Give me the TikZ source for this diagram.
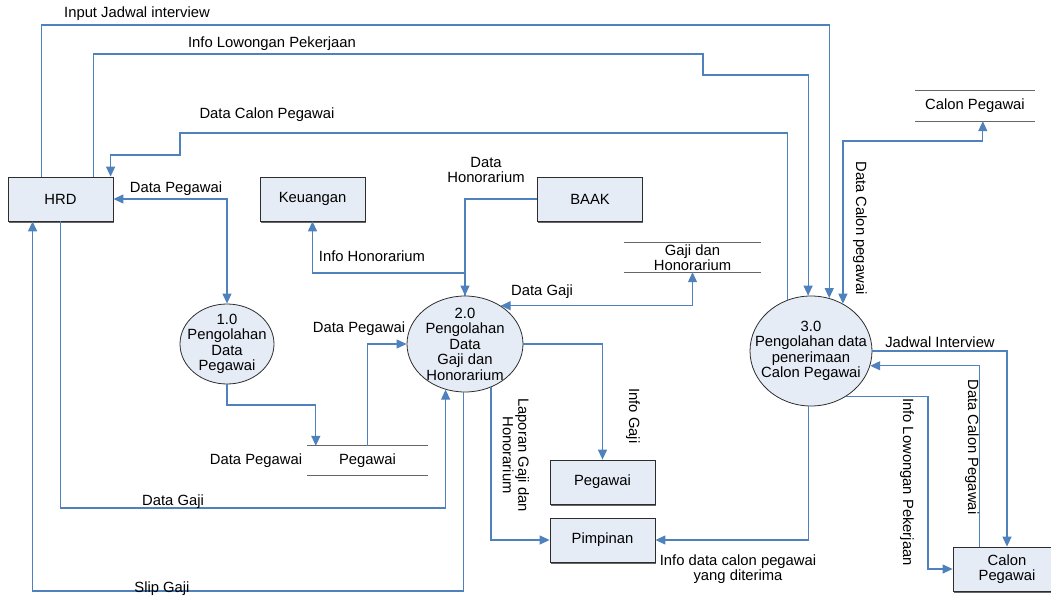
\documentclass[tikz,border=0pt]{standalone}
\usepackage{fontspec}
\setmainfont{Liberation Sans}
\usetikzlibrary{shapes.geometric,arrows.meta,shadows}
\definecolor{lineblue}{RGB}{79,129,189}
\definecolor{boxfill}{RGB}{230,236,246}
\definecolor{edgegray}{RGB}{45,45,45}
\begin{document}
\begin{tikzpicture}[x=1pt,y=-1pt,
  font=\fontsize{14.8}{15.5}\selectfont,
  ext/.style={rectangle, draw=edgegray, line width=0.8pt, fill=boxfill, minimum width=105pt, minimum height=44pt, inner sep=0pt, align=center,
    drop shadow={shadow xshift=0.6pt, shadow yshift=-1.6pt, fill=black!60, opacity=1}},
  proc/.style={ellipse, draw=edgegray, line width=0.8pt, fill=boxfill, inner sep=0pt},
  store/.style={rectangle, inner sep=0pt, align=center},
  storeline/.style={draw=black!60, line width=1.3pt},
  lbl/.style={inner sep=0pt, align=center},
  flow/.style={draw=lineblue, line width=1.2pt, -{Triangle[length=10pt,width=9pt]}},
  both/.style={draw=lineblue, line width=1.2pt, {Triangle[length=10pt,width=9pt]}-{Triangle[length=10pt,width=9pt]}}
]
\useasboundingbox (0,0) rectangle (1051,596);

% external entities
\node[ext] (hrd) at (60.5,199) {HRD};
\node[ext] (keu) at (312.5,199) {Keuangan};
\node[ext] (baak) at (590,199) {BAAK};
\node[ext] (peg) at (602.5,482) {Pegawai};
\node[ext] (pim) at (602.5,540) {Pimpinan};
\node[ext, minimum width=108pt] (cpb) at (1007,569) {Calon\\Pegawai};

% processes
\node[proc, minimum width=94pt, minimum height=80pt] (c1) at (227,344) {};
\node[proc, minimum width=116pt, minimum height=96pt] (c2) at (465,344) {};
\node[proc, minimum width=122pt, minimum height=110pt] (c3) at (811,351) {};
\node[lbl] (t1) at (c1) {1.0\\Pengolahan\\Data\\Pegawai};
\node[lbl] (t2) at (c2) {2.0\\Pengolahan\\Data\\Gaji dan\\Honorarium};
\node[lbl] (t3) at (c3) {3.0\\Pengolahan data\\penerimaan\\Calon Pegawai};

% data stores
\node[store, minimum width=120pt, minimum height=30pt] (cps) at (975,106) {Calon Pegawai};
\node[store, minimum width=137pt, minimum height=29pt] (gs) at (692.5,257.5) {Gaji dan\\Honorarium};
\node[store, minimum width=121pt, minimum height=29pt] (ps) at (367.5,460.5) {Pegawai};
\draw[storeline] (cps.north west) -- (cps.north east) (cps.south west) -- (cps.south east);
\draw[storeline] (gs.north west) -- (gs.north east) (gs.south west) -- (gs.south east);
\draw[storeline] (ps.north west) -- (ps.north east) (ps.south west) -- (ps.south east);

% flows
\draw[flow] ([xshift=34pt]hrd.north west) |- (c3.71 |- 0,25) -- (c3.71);
\draw[flow] ([xshift=86pt]hrd.north west) |- (703,54) |- (c3.93 |- 0,75) -- (c3.93);
\draw[flow] (c3.115) -- (c3.115 |- 0,133) -| (180,155) -| ([xshift=103pt]hrd.north west);
\draw[both] (c3.56) -- (c3.56 |- 0,141) -| ([xshift=68pt]cps.south west);
\draw[both] (hrd.east) -| (c1.north);
\draw[flow] (c1.south) -- (c1.south |- 0,405) -| ([xshift=9pt]ps.north west);
\draw[flow] (ps.north) |- (c2.west);
\draw[flow] (baak.west) -| (c2.north);
\draw[flow] (c2.north) -- (c2.north |- 0,273) -| (keu.south);
\draw[both] (c2.47) -| (gs.south);
\draw[flow] (c2.east) -| (peg.north);
\draw[flow] (c2.301) |- (pim.west);
\draw[flow] (c3.267) |- (pim.east);
\draw[flow] (c2.268) -- (c2.268 |- 0,591) -| ([xshift=25pt]hrd.south west);
\draw[flow] (hrd.south) |- (c2.247 |- 0,508) -- (c2.247);
\draw[flow] (c3.east) -| (cpb.north);
\draw[flow] ([xshift=27pt]cpb.north west) |- (c3.346);
\draw[flow] (c3.307) -- (928,0 |- c3.307) |- (cpb.west);

% labels
\node[lbl] (l1) at (137,14) {Input Jadwal interview};
\node[lbl] (l2) at (272,44) {Info Lowongan Pekerjaan};
\node[lbl] (l3) at (267,115) {Data Calon Pegawai};
\node[lbl] (l4) at (176,189) {Data Pegawai};
\node[lbl] (l5) at (486,170) {Data\\Honorarium};
\node[lbl] (l6) at (372,256) {Info Honorarium};
\node[lbl] (l7) at (542,292) {Data Gaji};
\node[lbl] (l8) at (359,329) {Data Pegawai};
\node[lbl] (l9) at (256,461) {Data Pegawai};
\node[lbl] (l10) at (173,502) {Data Gaji};
\node[lbl] (l11) at (162,589) {Slip Gaji};
\node[lbl, rotate=-90] (l12) at (633,416) {Info Gaji};
\node[lbl, rotate=-90] (l13) at (516,455) {Laporan Gaji dan\\Honorarium};
\node[lbl] (l14) at (738,569) {Info data calon pegawai\\yang diterima};
\node[lbl, rotate=-90] (l15) at (860,228) {Data Calon pegawai};
\node[lbl] (l16) at (940,342) {Jadwal Interview};
\node[lbl, rotate=-90] (l17) at (972,447) {Data Calon Pegawai};
\node[lbl, rotate=-90] (l18) at (907,482) {Info Lowongan Pekerjaan};
\end{tikzpicture}
\end{document}
